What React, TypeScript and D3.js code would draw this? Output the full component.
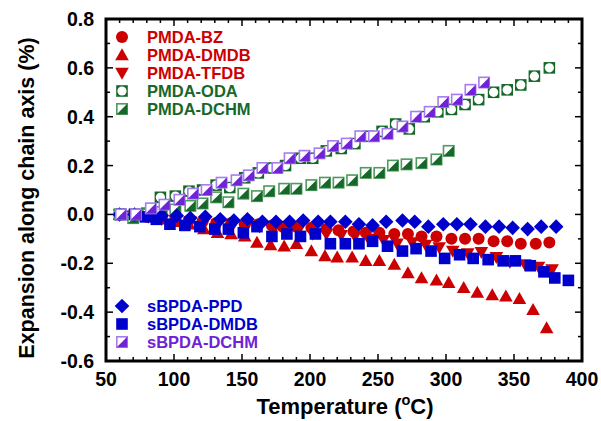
import React from "react";
import * as d3 from "d3";

// PMDA-BZ (red circles)
const bzT = [60, 70, 80, 91, 101, 111, 121, 131, 142, 152, 162, 172, 180, 190, 201, 212, 221, 232, 241, 251, 262, 272, 282, 293, 304, 314, 324, 335, 345, 355, 366, 376];
const bzV = [0, -0.005, -0.01, -0.015, -0.02, -0.025, -0.03, -0.035, -0.035, -0.04, -0.04, -0.045, -0.05, -0.05, -0.055, -0.06, -0.065, -0.07, -0.075, -0.075, -0.08, -0.08, -0.09, -0.09, -0.1, -0.1, -0.1, -0.11, -0.11, -0.12, -0.12, -0.115];

// PMDA-DMDB (red up triangles)
const dmdbT = [60, 70, 81, 91, 101, 111, 122, 132, 142, 152, 161, 171, 181, 190, 201, 211, 220, 231, 241, 251, 262, 272, 282, 293, 302, 313, 323, 334, 344, 354, 364, 374];
const dmdbV = [0, -0.005, -0.01, -0.02, -0.03, -0.04, -0.06, -0.075, -0.08, -0.09, -0.115, -0.125, -0.13, -0.12, -0.15, -0.17, -0.175, -0.175, -0.19, -0.19, -0.205, -0.24, -0.26, -0.27, -0.28, -0.3, -0.32, -0.33, -0.335, -0.345, -0.39, -0.465];

// PMDA-TFDB (red down triangles)
const tfdbT = [60, 70, 81, 91, 101, 112, 122, 132, 143, 153, 163, 174, 181, 192, 202, 212, 223, 233, 243, 254, 264, 275, 285, 295, 305, 316, 326, 337, 347, 358, 368, 378];
const tfdbV = [0, -0.005, -0.01, -0.02, -0.025, -0.03, -0.035, -0.04, -0.045, -0.05, -0.05, -0.055, -0.055, -0.06, -0.08, -0.08, -0.085, -0.09, -0.1, -0.105, -0.12, -0.115, -0.125, -0.135, -0.15, -0.16, -0.155, -0.175, -0.195, -0.205, -0.215, -0.225];

// PMDA-ODA (green open circles)
const odaT = [60, 71, 80, 90, 101, 111, 121, 131, 141, 152, 162, 172, 182, 193, 202, 212, 223, 233, 243, 253, 263, 273, 284, 294, 304, 314, 324, 335, 345, 355, 365, 376];
const odaV = [0, 0, 0.005, 0.07, 0.075, 0.095, 0.1, 0.12, 0.11, 0.15, 0.17, 0.19, 0.2, 0.23, 0.23, 0.26, 0.27, 0.29, 0.32, 0.34, 0.37, 0.35, 0.4, 0.42, 0.43, 0.45, 0.47, 0.5, 0.51, 0.53, 0.566, 0.6];

// PMDA-DCHM (green half-filled squares)
const pdchmT = [60, 70, 81, 91, 101, 112, 121, 131, 140, 151, 161, 170, 181, 190, 201, 211, 221, 231, 241, 251, 261, 271, 282, 293, 302];
const pdchmV = [0, -0.015, 0, 0.01, 0.02, 0.035, 0.045, 0.07, 0.05, 0.085, 0.075, 0.095, 0.105, 0.105, 0.12, 0.13, 0.13, 0.14, 0.17, 0.17, 0.2, 0.205, 0.21, 0.225, 0.26];

// sBPDA-PPD (blue diamonds)
const ppdT = [60, 71, 81, 91, 102, 112, 123, 134, 144, 154, 165, 175, 185, 195, 206, 215, 226, 236, 246, 256, 268, 277, 287, 298, 308, 318, 329, 339, 349, 360, 370, 381];
const ppdV = [0, 0, -0.005, -0.005, -0.005, -0.015, -0.01, -0.02, -0.025, -0.02, -0.03, -0.03, -0.03, -0.025, -0.03, -0.03, -0.03, -0.04, -0.045, -0.03, -0.025, -0.03, -0.05, -0.04, -0.04, -0.04, -0.05, -0.05, -0.055, -0.06, -0.05, -0.05];

// sBPDA-DMDB (blue squares)
const sdmdbT = [61, 71, 79, 87, 97, 108, 119, 130, 140, 151, 161, 172, 183, 193, 204, 215, 226, 236, 246, 257, 268, 278, 289, 299, 310, 320, 331, 342, 351, 362, 372, 380, 390];
const sdmdbV = [0, 0, -0.01, -0.02, -0.04, -0.045, -0.05, -0.06, -0.06, -0.075, -0.05, -0.09, -0.08, -0.09, -0.08, -0.12, -0.12, -0.12, -0.11, -0.13, -0.15, -0.14, -0.15, -0.18, -0.165, -0.18, -0.185, -0.19, -0.19, -0.21, -0.235, -0.26, -0.27];

// sBPDA-DCHM (purple half-filled squares)
const sdchmT = [61, 72, 83, 93, 104, 114, 124, 135, 146, 155, 165, 176, 185, 196, 207, 217, 227, 237, 247, 257, 268, 278, 288, 298, 308, 318, 328];
const sdchmV = [0, 0, 0.025, 0.04, 0.06, 0.085, 0.1, 0.13, 0.14, 0.16, 0.19, 0.19, 0.23, 0.24, 0.25, 0.28, 0.29, 0.32, 0.32, 0.33, 0.36, 0.4, 0.42, 0.46, 0.47, 0.51, 0.54];

const xTicks = [50, 100, 150, 200, 250, 300, 350, 400];
const yTicks = [-0.6, -0.4, -0.2, 0.0, 0.2, 0.4, 0.6, 0.8];

const RED = "#cc0000";
const GREEN = "#16682a";
const GREEN_LT = "#4f9a5e";
const BLUE = "#0000cc";
const PURPLE = "#6f22d6";
const PURPLE_LT = "#a77cf0";
const FONT = "'Liberation Sans', Arial, Helvetica, sans-serif";

type Kind = "circle" | "up" | "down" | "oda" | "dchmG" | "diamond" | "square" | "dchmP";

function Marker({ kind, x, y }: { kind: Kind; x: number; y: number }) {
  switch (kind) {
    case "circle":
      return <circle cx={x} cy={y} r={6} fill={RED} />;
    case "up":
      return <polygon points={`${x},${y - 6.8} ${x + 6.8},${y + 5.2} ${x - 6.8},${y + 5.2}`} fill={RED} />;
    case "down":
      return <polygon points={`${x},${y + 6.8} ${x + 6.8},${y - 5.2} ${x - 6.8},${y - 5.2}`} fill={RED} />;
    case "diamond":
      return <polygon points={`${x},${y - 7.3} ${x + 7.3},${y} ${x},${y + 7.3} ${x - 7.3},${y}`} fill={BLUE} />;
    case "square":
      return <rect x={x - 5.8} y={y - 5.8} width={11.6} height={11.6} fill={BLUE} />;
    case "oda":
      return (
        <g>
          <rect x={x - 5.8} y={y - 5.8} width={11.6} height={11.6} fill={GREEN} />
          <circle cx={x} cy={y} r={4.6} fill="#fff" />
        </g>
      );
    case "dchmG":
    case "dchmP": {
      const dark = kind === "dchmG" ? GREEN : PURPLE;
      const lt = kind === "dchmG" ? GREEN_LT : PURPLE_LT;
      return (
        <g>
          <rect x={x - 5.2} y={y - 5.2} width={10.4} height={10.4} fill="#fff" stroke={lt} strokeWidth={1.6} />
          <polygon points={`${x + 5.2},${y - 5.2} ${x + 5.2},${y + 5.2} ${x - 5.2},${y + 5.2}`} fill={dark} />
        </g>
      );
    }
  }
  return null;
}

const series: { name: string; kind: Kind; t: number[]; v: number[]; color: string }[] = [
  { name: "PMDA-BZ", kind: "circle", t: bzT, v: bzV, color: RED },
  { name: "PMDA-DMDB", kind: "up", t: dmdbT, v: dmdbV, color: RED },
  { name: "PMDA-TFDB", kind: "down", t: tfdbT, v: tfdbV, color: RED },
  { name: "PMDA-ODA", kind: "oda", t: odaT, v: odaV, color: GREEN },
  { name: "PMDA-DCHM", kind: "dchmG", t: pdchmT, v: pdchmV, color: GREEN },
  { name: "sBPDA-PPD", kind: "diamond", t: ppdT, v: ppdV, color: BLUE },
  { name: "sBPDA-DMDB", kind: "square", t: sdmdbT, v: sdmdbV, color: BLUE },
  { name: "sBPDA-DCHM", kind: "dchmP", t: sdchmT, v: sdchmV, color: PURPLE },
];

export default function App() {
  const W = 601;
  const H = 421;
  const left = 106, right = 582, top = 19, bottom = 361;

  const x = d3.scaleLinear().domain([50, 400]).range([left, right]);
  const y = d3.scaleLinear().domain([-0.6, 0.8]).range([bottom, top]);

  const xMinor = d3.range(50, 401, 10);
  const yMinor = d3.range(-6, 9, 1).map((d) => d / 10);

  const upperLegend = series.slice(0, 5);
  const lowerLegend = series.slice(5);

  return (
    <svg width={W} height={H} style={{ position: "absolute", left: 0, top: 0, background: "#fff" }} fontFamily={FONT}>
      {/* ticks */}
      {xMinor.map((t) => {
        const major = t % 50 === 0;
        const len = major ? 7 : 4;
        return (
          <g key={"xt" + t} stroke="#000" strokeWidth={1.5}>
            <line x1={x(t)} x2={x(t)} y1={bottom} y2={bottom - len} />
            <line x1={x(t)} x2={x(t)} y1={top} y2={top + len} />
          </g>
        );
      })}
      {yMinor.map((v) => {
        const major = Math.round(v * 10) % 2 === 0;
        const len = major ? 7 : 4;
        return (
          <g key={"yt" + v} stroke="#000" strokeWidth={1.5}>
            <line x1={left} x2={left + len} y1={y(v)} y2={y(v)} />
            <line x1={right} x2={right - len} y1={y(v)} y2={y(v)} />
          </g>
        );
      })}

      {/* markers */}
      {series.map((s) => (
        <g key={s.name}>
          {s.t.map((t, i) => (
            <Marker key={i} kind={s.kind} x={x(t)} y={y(s.v[i])} />
          ))}
        </g>
      ))}

      {/* frame */}
      <rect x={left} y={top} width={right - left} height={bottom - top} fill="none" stroke="#000" strokeWidth={3} />

      {/* tick labels */}
      {xTicks.map((t) => (
        <text key={"xl" + t} x={x(t)} y={386} textAnchor="middle" fontSize={19.5} fontWeight="bold">
          {t}
        </text>
      ))}
      {yTicks.map((v) => (
        <text key={"yl" + v} x={94} y={y(v) + 7} textAnchor="end" fontSize={19.5} fontWeight="bold">
          {v.toFixed(1)}
        </text>
      ))}

      {/* axis titles */}
      <text x={345} y={414} textAnchor="middle" fontSize={22} fontWeight="bold">
        Temperature (<tspan fontSize={14.5} dy={-9}>o</tspan>
        <tspan dy={9}>C)</tspan>
      </text>
      <text transform={`translate(34,198) rotate(-90)`} textAnchor="middle" fontSize={21.5} fontWeight="bold">
        Expansion along chain axis (%)
      </text>

      {/* legends */}
      {upperLegend.map((s, i) => (
        <g key={"lg" + s.name}>
          <Marker kind={s.kind} x={122} y={37 + i * 18} />
          <text x={147} y={43 + i * 18} fontSize={16.5} fontWeight="bold" fill={s.color}>
            {s.name}
          </text>
        </g>
      ))}
      {lowerLegend.map((s, i) => (
        <g key={"lg" + s.name}>
          <Marker kind={s.kind} x={122} y={306 + i * 18} />
          <text x={147} y={312 + i * 18} fontSize={16.5} fontWeight="bold" fill={s.color}>
            {s.name}
          </text>
        </g>
      ))}
    </svg>
  );
}
